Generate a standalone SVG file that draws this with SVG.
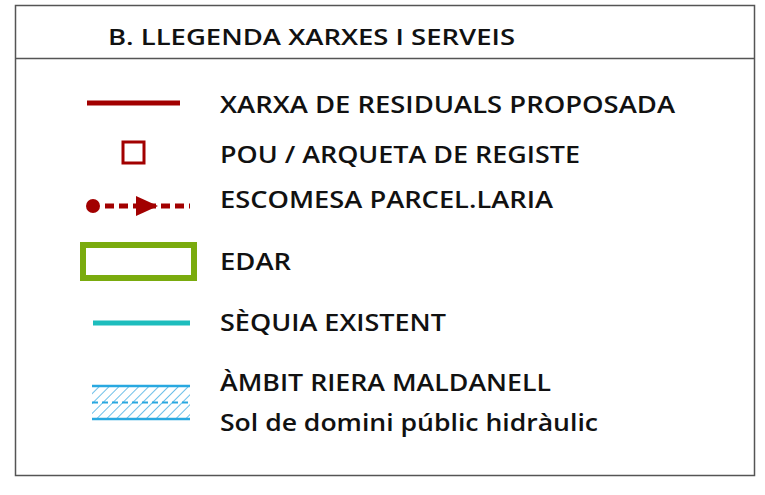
<svg xmlns="http://www.w3.org/2000/svg" width="765" height="495" viewBox="0 0 765 495">
<defs>
<style>
.t{font-family:"Open Sans","Liberation Sans",sans-serif;font-size:23.5px;fill:#111;font-weight:600}
.h{font-family:"Open Sans","Liberation Sans",sans-serif;font-size:21px;fill:#111;font-weight:600}
.red{stroke:#a20000;fill:none}
</style>
<pattern id="hatch" width="7" height="7" patternUnits="userSpaceOnUse" patternTransform="rotate(45)">
<line x1="0" y1="0" x2="0" y2="7" stroke="#3aa9e0" stroke-width="1.5"/>
</pattern>
</defs>
<rect x="15.5" y="5.5" width="739" height="470" fill="#fff" stroke="#555" stroke-width="1.5"/>
<line x1="15.5" y1="58.5" x2="754.5" y2="58.5" stroke="#555" stroke-width="1.5"/>
<text class="h" x="108" y="45" textLength="407" lengthAdjust="spacingAndGlyphs">B. LLEGENDA XARXES I SERVEIS</text>
<g id="xarxa">
<line class="red" x1="87" y1="103" x2="180" y2="103" stroke-width="5"/>
<text class="t" x="220" y="113" textLength="455" lengthAdjust="spacingAndGlyphs">XARXA DE RESIDUALS PROPOSADA</text>
</g>
<g id="pou">
<rect class="red" x="123" y="142" width="21" height="21" stroke-width="3"/>
<text class="t" x="220" y="163" textLength="360" lengthAdjust="spacingAndGlyphs">POU / ARQUETA DE REGISTE</text>
</g>
<g id="escomesa">
<circle cx="93" cy="206" r="7" fill="#a20000"/>
<line class="red" x1="105" y1="206" x2="190" y2="206" stroke-width="5" stroke-dasharray="9,5"/>
<polygon points="136,196 158,206 136,216" fill="#a20000"/>
<text class="t" x="220" y="208" textLength="333" lengthAdjust="spacingAndGlyphs">ESCOMESA PARCEL.LARIA</text>
</g>
<g id="edar">
<rect x="83" y="245" width="111" height="33" fill="none" stroke="#7aab0e" stroke-width="6"/>
<text class="t" x="220" y="270" textLength="71" lengthAdjust="spacingAndGlyphs">EDAR</text>
</g>
<g id="sequia">
<line x1="93" y1="323" x2="190" y2="323" stroke="#1dbdbd" stroke-width="5"/>
<text class="t" x="220" y="331" textLength="226" lengthAdjust="spacingAndGlyphs">SÈQUIA EXISTENT</text>
</g>
<g id="ambit">
<rect x="92" y="386" width="98" height="33" fill="url(#hatch)"/>
<line x1="92" y1="386" x2="190" y2="386" stroke="#28a8e0" stroke-width="2.5"/>
<line x1="92" y1="419" x2="190" y2="419" stroke="#28a8e0" stroke-width="2.5"/>
<line x1="92" y1="402.5" x2="190" y2="402.5" stroke="#28a8e0" stroke-width="2" stroke-dasharray="6,4"/>
<text class="t" x="220" y="391" textLength="331" lengthAdjust="spacingAndGlyphs">ÀMBIT RIERA MALDANELL</text>
<text class="t" x="220" y="431" textLength="378" lengthAdjust="spacingAndGlyphs">Sol de domini públic hidràulic</text>
</g>
</svg>
